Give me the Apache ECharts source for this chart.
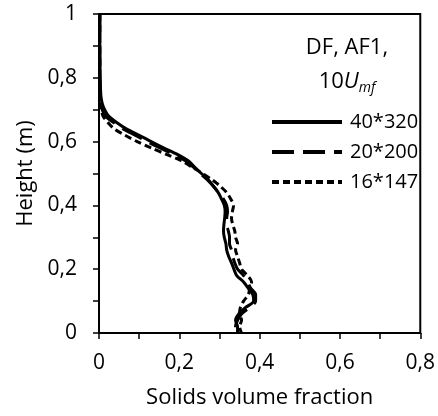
<!DOCTYPE html>
<html>
<head>
<meta charset="utf-8">
<script src="https://cdn.jsdelivr.net/npm/echarts@6/dist/echarts.min.js"></script>
<style>
  html, body { margin: 0; padding: 0; background: #fff; }
  #chart { width: 438px; height: 416px; }
</style>
</head>
<body>
<div id="chart"></div>
<script>
// heights (m), shared by all three meshes
var heights = [1, 0.9, 0.8, 0.76, 0.74, 0.72, 0.70, 0.68, 0.66, 0.64, 0.62, 0.60, 0.58, 0.56, 0.54,
    0.52, 0.50, 0.48, 0.46, 0.44, 0.42, 0.40, 0.38, 0.36, 0.34, 0.32, 0.30, 0.28, 0.26, 0.24,
    0.22, 0.20, 0.18, 0.16, 0.14, 0.12, 0.10, 0.08, 0.06, 0.04, 0.02, 0];

var mesh40 = [0.002, 0.002, 0.003, 0.004, 0.005, 0.008, 0.014, 0.024, 0.044, 0.068, 0.10, 0.13, 0.162, 0.195, 0.222,
    0.238, 0.255, 0.272, 0.285, 0.297, 0.305, 0.312, 0.314, 0.313, 0.311, 0.31, 0.312, 0.316, 0.318, 0.323,
    0.33, 0.336, 0.343, 0.36, 0.372, 0.383, 0.385, 0.365, 0.348, 0.34, 0.345, 0.345];

var mesh20 = [0.002, 0.002, 0.002, 0.003, 0.004, 0.005, 0.008, 0.016, 0.036, 0.06, 0.09, 0.12, 0.152, 0.185, 0.215,
    0.235, 0.252, 0.27, 0.285, 0.298, 0.31, 0.318, 0.32, 0.318, 0.318, 0.322, 0.325, 0.325, 0.33, 0.333,
    0.338, 0.345, 0.36, 0.37, 0.378, 0.39, 0.39, 0.375, 0.355, 0.345, 0.34, 0.34];

var mesh16 = [0.002, 0.002, 0.002, 0.002, 0.003, 0.004, 0.006, 0.01, 0.022, 0.038, 0.065, 0.095, 0.13, 0.168, 0.205,
    0.232, 0.258, 0.282, 0.302, 0.318, 0.328, 0.335, 0.332, 0.33, 0.333, 0.338, 0.34, 0.345, 0.34, 0.345,
    0.35, 0.355, 0.37, 0.38, 0.375, 0.372, 0.36, 0.352, 0.35, 0.355, 0.35, 0.355];

var seriesNames = ['40*320', '20*200', '16*147'];
var lineTypes = ['solid', [22, 9], [7, 4]];

function pairs(xs) {
    return xs.map(function (x, i) { return [x, heights[i]]; });
}

function comma(v) {
    if (v === 0) return '0';
    if (v === 1) return '1';
    return v.toFixed(1).replace('.', ',');
}

var font = 'Open Sans';
var chart = echarts.init(document.getElementById('chart'));

var option = {
    animation: false,
    textStyle: { fontFamily: font, color: '#000' },
    title: {
        text: 'DF, AF1,\n{a|10}{u|U}{s|mf}',
        left: 342,
        top: 26,
        textAlign: 'center',
        textStyle: {
            fontFamily: font, fontWeight: 'normal', fontSize: 22, color: '#000', lineHeight: 34,
            rich: {
                a: { fontFamily: font, fontSize: 22, color: '#000' },
                u: { fontFamily: font, fontSize: 22, fontStyle: 'italic', color: '#000' },
                s: { fontFamily: font, fontSize: 14, fontStyle: 'italic', color: '#000', padding: [12, 0, 0, 0] }
            }
        }
    },
    legend: {
        orient: 'vertical',
        left: 265,
        top: 107,
        itemWidth: 70,
        itemHeight: 14,
        itemGap: 10,
        data: seriesNames,
        itemStyle: { opacity: 0 },
        lineStyle: { width: 4 },
        textStyle: { fontFamily: font, fontSize: 20, color: '#000', padding: [0, 0, 0, 3] }
    },
    grid: {
        left: 99, top: 14, right: 15, bottom: 83,
        show: true, borderColor: '#000', borderWidth: 2
    },
    xAxis: {
        type: 'value',
        min: 0, max: 0.8, interval: 0.2,
        name: 'Solids volume fraction',
        nameLocation: 'middle',
        nameGap: 54,
        nameTextStyle: { fontFamily: font, fontSize: 22, color: '#000' },
        axisLine: { lineStyle: { color: '#000', width: 2 } },
        axisTick: { show: true, length: 6, lineStyle: { color: '#000', width: 1.5 } },
        minorTick: { show: true, splitNumber: 2, length: 6, lineStyle: { color: '#000', width: 1.5 } },
        splitLine: { show: false },
        axisLabel: { fontFamily: font, fontSize: 21, color: '#000', margin: 20, formatter: comma }
    },
    yAxis: {
        type: 'value',
        min: 0, max: 1, interval: 0.2,
        name: 'Height (m)',
        nameLocation: 'middle',
        nameGap: 58,
        nameTextStyle: { fontFamily: font, fontSize: 22, color: '#000' },
        axisLine: { lineStyle: { color: '#000', width: 2 } },
        axisTick: { show: true, length: 6, lineStyle: { color: '#000', width: 1.5 } },
        minorTick: { show: true, splitNumber: 2, length: 6, lineStyle: { color: '#000', width: 1.5 } },
        splitLine: { show: false },
        axisLabel: { fontFamily: font, fontSize: 21, color: '#000', margin: 22, formatter: comma }
    },
    series: [mesh40, mesh20, mesh16].map(function (xs, i) {
        return {
            name: seriesNames[i],
            type: 'line',
            data: pairs(xs),
            symbol: 'none',
            smooth: 0.3,
            color: '#000',
            lineStyle: { color: '#000', width: 3, type: lineTypes[i] }
        };
    })
};

chart.setOption(option);
</script>
</body>
</html>
